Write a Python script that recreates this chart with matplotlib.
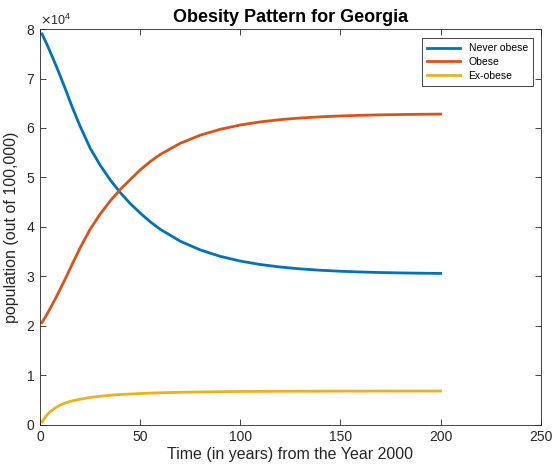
import matplotlib.pyplot as plt
import matplotlib.ticker as mticker
import numpy as np

plt.rcParams["font.family"] = ["Liberation Sans", "DejaVu Sans"]

# Population of each group (out of 100,000) over time
years = [1, 3, 5, 8, 10, 13, 16, 20, 25, 30, 35, 40, 45, 50, 55, 60, 70, 80, 90,
         100, 110, 120, 130, 140, 150, 160, 170, 180, 190, 200]
never_obese = [79000, 77300, 75460, 72600, 70610, 67510, 64300, 60380, 55960, 52509,
               49541, 46971, 44749, 42824, 41058, 39540, 37130, 35365, 34065,
               33114, 32416, 31907, 31533, 31257, 31053, 30907, 30796, 30718, 30660, 30616]
obese = [20700, 22030, 23485, 25764, 27368, 29836, 32410, 35749, 39530, 42585,
         45239, 47548, 49552, 51523, 53207, 54641, 56903, 58545, 59739,
         60604, 61233, 61689, 62018, 62259, 62436, 62562, 62655, 62723, 62769, 62807]
ex_obese = [600, 1800, 2650, 3550, 4000, 4500, 4850, 5200, 5550, 5800,
            6000, 6150, 6250, 6350, 6430, 6500, 6600, 6670, 6720,
            6760, 6785, 6805, 6818, 6828, 6835, 6840, 6844, 6847, 6849, 6850]

fig = plt.figure(figsize=(5.52, 4.68), dpi=100)
ax = fig.add_axes([0.0725, 0.092, 0.907, 0.846])

ax.plot(years, never_obese, color="#0072BD", lw=2, label="Never obese")
ax.plot(years, obese, color="#D95319", lw=2, label="Obese")
ax.plot(years, ex_obese, color="#EDB120", lw=2, label="Ex-obese")

ax.set_xlim(0, 250)
ax.set_ylim(0, 80000)
ax.set_xticks(np.arange(0, 251, 50))
ax.set_yticks(np.arange(0, 80001, 10000))

fmt = mticker.ScalarFormatter(useMathText=True)
fmt.set_powerlimits((0, 0))
ax.yaxis.set_major_formatter(fmt)
ax.yaxis.get_offset_text().set_fontsize(9)
ax.yaxis.get_offset_text().set_color("#262626")

ax.tick_params(direction="in", top=True, right=True, length=4, width=0.6,
               colors="#262626", labelsize=10)
for s in ax.spines.values():
    s.set_color("#262626")
    s.set_linewidth(0.6)

ax.set_title("Obesity Pattern for Georgia", fontsize=13, fontweight="bold", pad=5)
ax.set_xlabel("Time (in years) from the Year 2000", fontsize=11.5, color="#262626", labelpad=2)
ax.set_ylabel("population (out of 100,000)", fontsize=11.5, color="#262626", labelpad=5)

leg = ax.legend(loc="upper right", fontsize=7.5, fancybox=False, framealpha=1,
                edgecolor="#262626", handlelength=3.2, borderpad=0.5,
                labelspacing=0.35, bbox_to_anchor=(0.995, 0.99))
leg.get_frame().set_linewidth(0.6)

fig.savefig("out.png", dpi=100)
